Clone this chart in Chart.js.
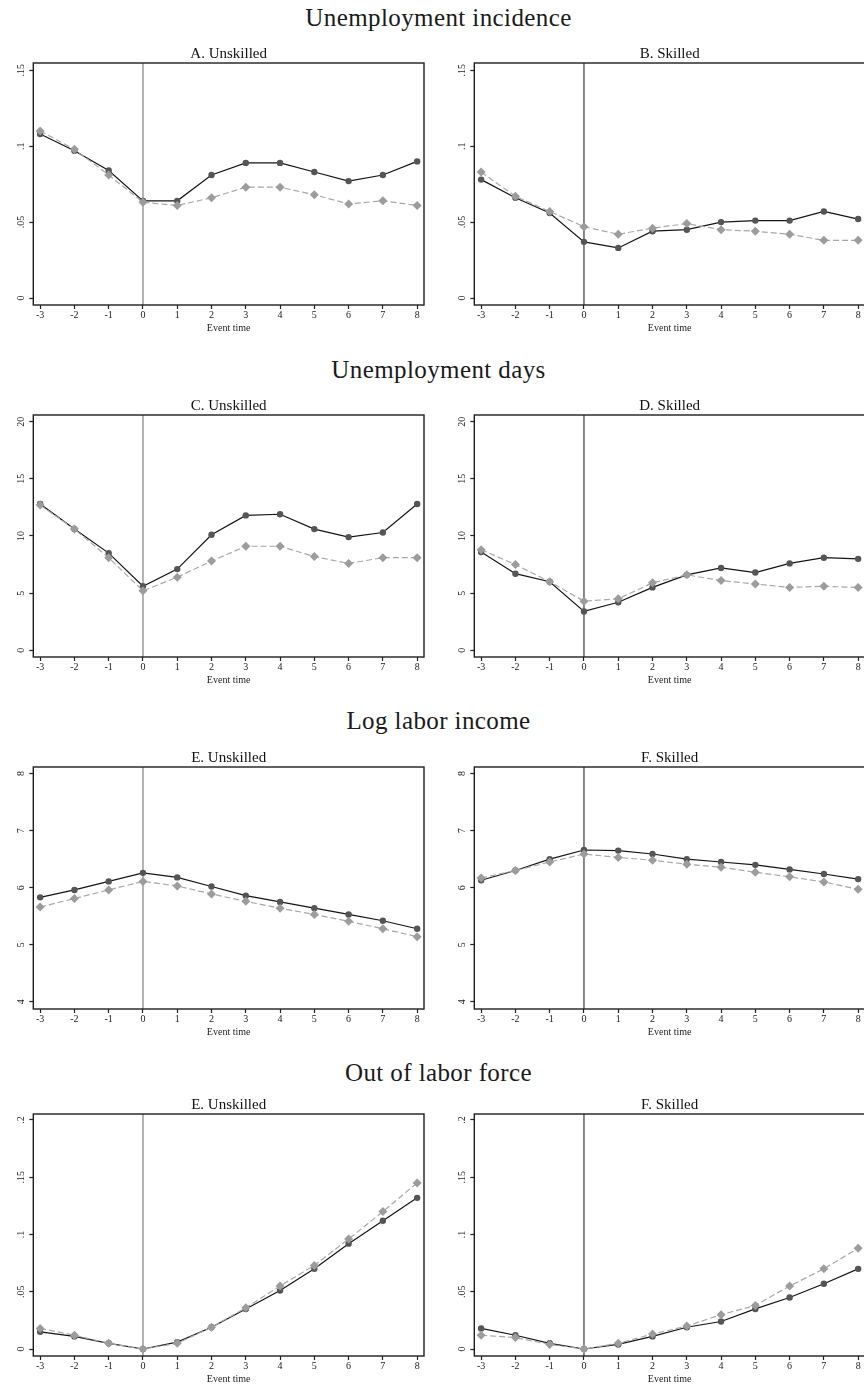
<!DOCTYPE html>
<html>
<head>
<meta charset="utf-8">
<script src="https://cdn.jsdelivr.net/npm/chart.js@4.4.1/dist/chart.umd.min.js"></script>
<style>
  html, body { margin: 0; padding: 0; background: #fff; overflow: hidden; }
  body { width: 864px; height: 1387px; position: relative; }
  .sec {
    position: absolute; left: 0; width: 877px; text-align: center;
    font-family: "Liberation Serif", serif; font-size: 25px; line-height: 30px;
    letter-spacing: 0.4px; color: #1a1a1a;
  }
  canvas { position: absolute; }
</style>
</head>
<body>
<div class="sec" style="top:3px">Unemployment incidence</div>
<div class="sec" style="top:355px">Unemployment days</div>
<div class="sec" style="top:706px">Log labor income</div>
<div class="sec" style="top:1058px">Out of labor force</div>

<canvas id="pA" width="432" height="314" style="left:0;top:22.7px"></canvas>
<canvas id="pB" width="432" height="314" style="left:441.4px;top:22.7px"></canvas>
<canvas id="pC" width="432" height="314" style="left:0;top:374.7px"></canvas>
<canvas id="pD" width="432" height="314" style="left:441.4px;top:374.7px"></canvas>
<canvas id="pE" width="432" height="314" style="left:0;top:726.7px"></canvas>
<canvas id="pF" width="432" height="314" style="left:441.4px;top:726.7px"></canvas>
<canvas id="pG" width="432" height="314" style="left:0;top:1074px"></canvas>
<canvas id="pH" width="432" height="314" style="left:441.4px;top:1074px"></canvas>

<script>
// ---------------- data ----------------
const eventTime = [-3, -2, -1, 0, 1, 2, 3, 4, 5, 6, 7, 8];

// unemployment incidence
const incUnskilledSolid  = [0.108, 0.097, 0.084, 0.064, 0.064, 0.081, 0.089, 0.089, 0.083, 0.077, 0.081, 0.090];
const incUnskilledDashed = [0.110, 0.098, 0.081, 0.063, 0.061, 0.066, 0.073, 0.073, 0.068, 0.062, 0.064, 0.061];
const incSkilledSolid    = [0.078, 0.066, 0.056, 0.037, 0.033, 0.044, 0.045, 0.050, 0.051, 0.051, 0.057, 0.052];
const incSkilledDashed   = [0.083, 0.067, 0.057, 0.047, 0.042, 0.046, 0.049, 0.045, 0.044, 0.042, 0.038, 0.038];

// unemployment days
const daysUnskilledSolid  = [12.8, 10.6, 8.5, 5.6, 7.1, 10.1, 11.8, 11.9, 10.6, 9.9, 10.3, 12.8];
const daysUnskilledDashed = [12.7, 10.6, 8.1, 5.2, 6.4, 7.8, 9.1, 9.1, 8.2, 7.6, 8.1, 8.1];
const daysSkilledSolid    = [8.6, 6.7, 6.0, 3.4, 4.2, 5.5, 6.6, 7.2, 6.8, 7.6, 8.1, 8.0];
const daysSkilledDashed   = [8.8, 7.5, 6.0, 4.3, 4.5, 5.9, 6.6, 6.1, 5.8, 5.5, 5.6, 5.5];

// log labor income
const incomeUnskilledSolid  = [5.83, 5.96, 6.11, 6.26, 6.18, 6.02, 5.86, 5.75, 5.64, 5.53, 5.42, 5.28];
const incomeUnskilledDashed = [5.66, 5.81, 5.96, 6.11, 6.03, 5.89, 5.76, 5.64, 5.53, 5.41, 5.28, 5.14];
const incomeSkilledSolid    = [6.13, 6.30, 6.50, 6.66, 6.65, 6.59, 6.50, 6.45, 6.40, 6.32, 6.24, 6.15];
const incomeSkilledDashed   = [6.17, 6.30, 6.45, 6.59, 6.53, 6.48, 6.41, 6.36, 6.27, 6.19, 6.10, 5.97];

// out of labor force
const olfUnskilledSolid  = [0.015, 0.011, 0.005, 0.000, 0.006, 0.019, 0.035, 0.051, 0.070, 0.092, 0.112, 0.132];
const olfUnskilledDashed = [0.018, 0.012, 0.005, 0.000, 0.005, 0.019, 0.036, 0.055, 0.073, 0.096, 0.120, 0.145];
const olfSkilledSolid    = [0.018, 0.012, 0.005, 0.000, 0.004, 0.011, 0.019, 0.024, 0.035, 0.045, 0.057, 0.070];
const olfSkilledDashed   = [0.012, 0.010, 0.004, 0.000, 0.005, 0.013, 0.020, 0.030, 0.038, 0.055, 0.070, 0.088];

// y ticks
const incTicks = [0, 0.05, 0.1, 0.15];
const incTickLabels = ['0', '.05', '.1', '.15'];
const daysTicks = [0, 5, 10, 15, 20];
const daysTickLabels = ['0', '5', '10', '15', '20'];
const incomeTicks = [4, 5, 6, 7, 8];
const incomeTickLabels = ['4', '5', '6', '7', '8'];
const olfTicks = [0, 0.05, 0.1, 0.15, 0.2];
const olfTickLabels = ['0', '.05', '.1', '.15', '.2'];

// ---------------- drawing ----------------
Chart.defaults.font.family = '"Liberation Serif", "Times New Roman", serif';
Chart.defaults.font.size = 10;
Chart.defaults.color = '#222';

const measureCtx = document.createElement('canvas').getContext('2d');
measureCtx.font = '10px "Liberation Serif"';

// box around the plot, vertical line at event time 0, panel title
const framePlugin = {
    id: 'frame',
    beforeDatasetsDraw(chart, args, opts) {
        const { ctx, chartArea: a, scales: { x } } = chart;
        const px = x.getPixelForValue(0);
        ctx.save();
        ctx.strokeStyle = opts.eventColor;
        ctx.lineWidth = 1.2;
        ctx.beginPath();
        ctx.moveTo(px, a.top);
        ctx.lineTo(px, a.bottom);
        ctx.stroke();
        ctx.restore();
    },
    afterDraw(chart, args, opts) {
        const { ctx, chartArea: a } = chart;
        ctx.save();
        ctx.strokeStyle = '#1e1e1e';
        ctx.lineWidth = 1.4;
        ctx.strokeRect(a.left, a.top, a.right - a.left, a.bottom - a.top);
        ctx.fillStyle = '#111';
        ctx.font = '15px "Liberation Serif"';
        ctx.textAlign = 'center';
        ctx.textBaseline = 'alphabetic';
        ctx.fillText(opts.title, (a.left + a.right) / 2, a.top - 5.5);
        ctx.restore();
    }
};

function points(values) {
    return eventTime.map((t, i) => ({ x: t, y: values[i] }));
}

function drawPanel(id, title, solid, dashed, ticks, tickLabels, yMin, yMax, eventColor) {
    const widest = Math.max(...tickLabels.map(l => measureCtx.measureText(l).width));
    new Chart(document.getElementById(id), {
        type: 'line',
        data: {
            datasets: [{
                data: points(dashed),
                borderColor: '#a8a8a8',
                borderWidth: 1.2,
                borderDash: [6, 3],
                pointStyle: 'rectRot',
                pointRadius: 4.5,
                pointBorderWidth: 0,
                pointBackgroundColor: '#9c9c9c',
                fill: false,
                tension: 0
            }, {
                data: points(solid),
                borderColor: '#141414',
                borderWidth: 1.2,
                pointStyle: 'circle',
                pointRadius: 3.2,
                pointBorderWidth: 0,
                pointBackgroundColor: '#555',
                fill: false,
                tension: 0
            }]
        },
        options: {
            responsive: false,
            animation: false,
            devicePixelRatio: 1,
            layout: { padding: { left: 0, right: 8, top: 40, bottom: 0 } },
            plugins: {
                legend: { display: false },
                tooltip: { enabled: false },
                frame: { title: title, eventColor: eventColor }
            },
            scales: {
                x: {
                    type: 'linear',
                    min: -3.2,
                    max: 8.2,
                    afterBuildTicks: s => { s.ticks = eventTime.map(v => ({ value: v })); },
                    afterFit: s => { s.height = 32; },
                    border: { display: false },
                    grid: { drawOnChartArea: false, drawTicks: true, tickLength: 4, tickColor: '#222', tickWidth: 1.2 },
                    ticks: { padding: 0, autoSkip: false, maxRotation: 0, callback: v => String(v) },
                    title: { display: true, text: 'Event time', padding: { top: 0, bottom: 3 }, font: { size: 10 }, color: '#222' }
                },
                y: {
                    min: yMin,
                    max: yMax,
                    afterBuildTicks: s => { s.ticks = ticks.map(v => ({ value: v })); },
                    afterFit: s => { s.width = 33.3; },
                    border: { display: false },
                    grid: { drawOnChartArea: false, drawTicks: true, tickLength: 4, tickColor: '#222', tickWidth: 1.2 },
                    ticks: {
                        minRotation: 90,
                        maxRotation: 90,
                        crossAlign: 'center',
                        padding: 8.3 - widest / 2,
                        autoSkip: false,
                        callback: (v, i) => tickLabels[i]
                    }
                }
            }
        },
        plugins: [framePlugin]
    });
}

drawPanel('pA', 'A. Unskilled', incUnskilledSolid, incUnskilledDashed, incTicks, incTickLabels, -0.0046, 0.1548, '#808080');
drawPanel('pB', 'B. Skilled', incSkilledSolid, incSkilledDashed, incTicks, incTickLabels, -0.0046, 0.1548, '#3a3a3a');
drawPanel('pC', 'C. Unskilled', daysUnskilledSolid, daysUnskilledDashed, daysTicks, daysTickLabels, -0.586, 20.58, '#808080');
drawPanel('pD', 'D. Skilled', daysSkilledSolid, daysSkilledDashed, daysTicks, daysTickLabels, -0.586, 20.58, '#3a3a3a');
drawPanel('pE', 'E. Unskilled', incomeUnskilledSolid, incomeUnskilledDashed, incomeTicks, incomeTickLabels, 3.872, 8.116, '#808080');
drawPanel('pF', 'F. Skilled', incomeSkilledSolid, incomeSkilledDashed, incomeTicks, incomeTickLabels, 3.872, 8.116, '#3a3a3a');
drawPanel('pG', 'E. Unskilled', olfUnskilledSolid, olfUnskilledDashed, olfTicks, olfTickLabels, -0.0061, 0.2052, '#808080');
drawPanel('pH', 'F. Skilled', olfSkilledSolid, olfSkilledDashed, olfTicks, olfTickLabels, -0.0061, 0.2052, '#3a3a3a');
</script>
</body>
</html>
